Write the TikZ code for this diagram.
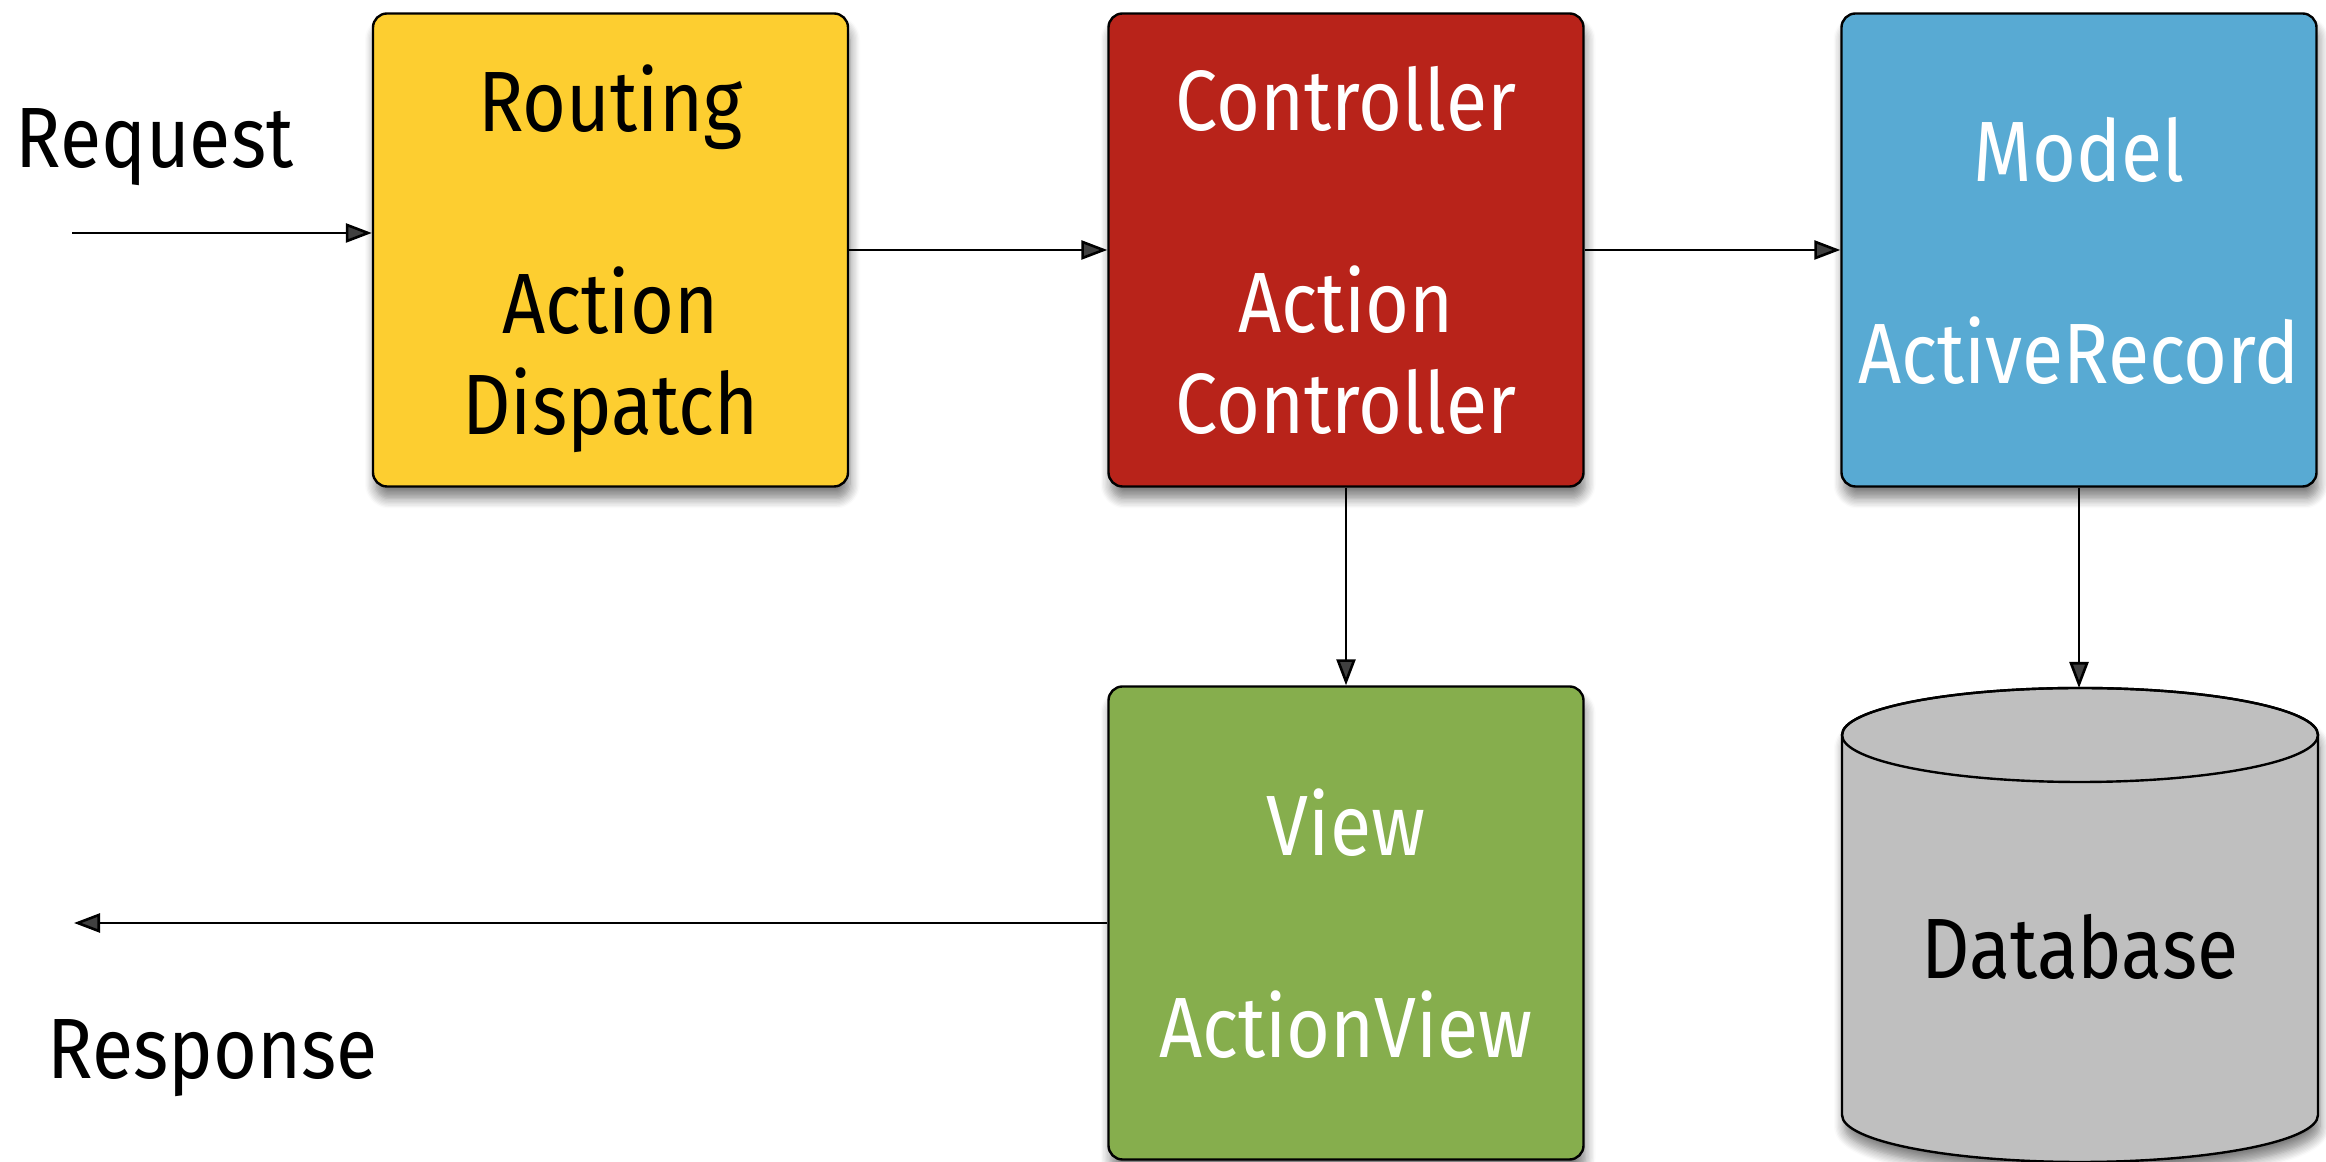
\documentclass[tikz,border=0pt]{standalone}
\usepackage{fontspec}
\setmainfont[FakeStretch=0.88]{Fira Sans}
\usetikzlibrary{arrows.meta,shadows.blur}
\definecolor{routingyellow}{HTML}{FDCE30}
\definecolor{controllerred}{HTML}{B8231A}
\definecolor{modelblue}{HTML}{58AAD3}
\definecolor{viewgreen}{HTML}{86AE4D}
\definecolor{dbgray}{HTML}{BFBFBF}
\newcommand{\layerfont}{\fontsize{42.8}{50.5}\selectfont}

\begin{document}
\begin{tikzpicture}[x=0.5pt, y=0.5pt,
        softshadow/.style={blur shadow={shadow xshift=1pt, shadow yshift=-6pt, shadow blur radius=5pt, shadow blur steps=8, shadow opacity=50}},
        layer/.style={draw=black, line width=1.2pt, rounded corners=7pt, minimum width=237.5pt, minimum height=236.5pt, align=center, text depth=0pt, font=\layerfont, softshadow},
        flow/.style={line width=1.3pt, -{Triangle[length=13pt, width=9.5pt]}}]
        \useasboundingbox (0,0) rectangle (2326,1162);

        \node[layer, fill=routingyellow] (routing) at (610.5,912) {Routing\\[50.5pt]Action\\Dispatch};
        \node[layer, fill=controllerred, text=white] (controller) at (1346,912) {Controller\\[50.5pt]Action\\Controller};
        \node[layer, fill=modelblue, text=white] (model) at (2079,912) {Model\\[50.5pt]ActiveRecord};
        \node[layer, fill=viewgreen, text=white] (view) at (1346,239) {View\\[50.5pt]ActionView};

        \draw[fill=dbgray, line width=1.2pt, softshadow] (1842,427) -- (1842,47) arc[start angle=180, end angle=360, x radius=238, y radius=47] -- (2318,427) arc[start angle=0, end angle=180, x radius=238, y radius=47] -- cycle;
        \draw[line width=1.2pt] (2080,427) ellipse[x radius=238, y radius=47];
        \node[font=\layerfont, anchor=base] (db) at (2080,183) {Database};
        \coordinate (dbtop) at (2079,474);

        \node[font=\layerfont, anchor=base] (request) at (154.5,994) {Request};
        \node[font=\layerfont, anchor=base] (response) at (212.5,83) {Response};
        \coordinate (reqin) at (72,929);
        \coordinate (respout) at (74,239);

        \draw[flow] (reqin) -- (reqin -| routing.west);
        \draw[flow] (routing.east) -- (controller.west);
        \draw[flow] (controller.east) -- (model.west);
        \draw[flow] (controller.south) -- (view.north);
        \draw[flow] (model.south) -- (dbtop);
        \draw[flow] (view.west) -- (respout);
    \end{tikzpicture}
\end{document}
